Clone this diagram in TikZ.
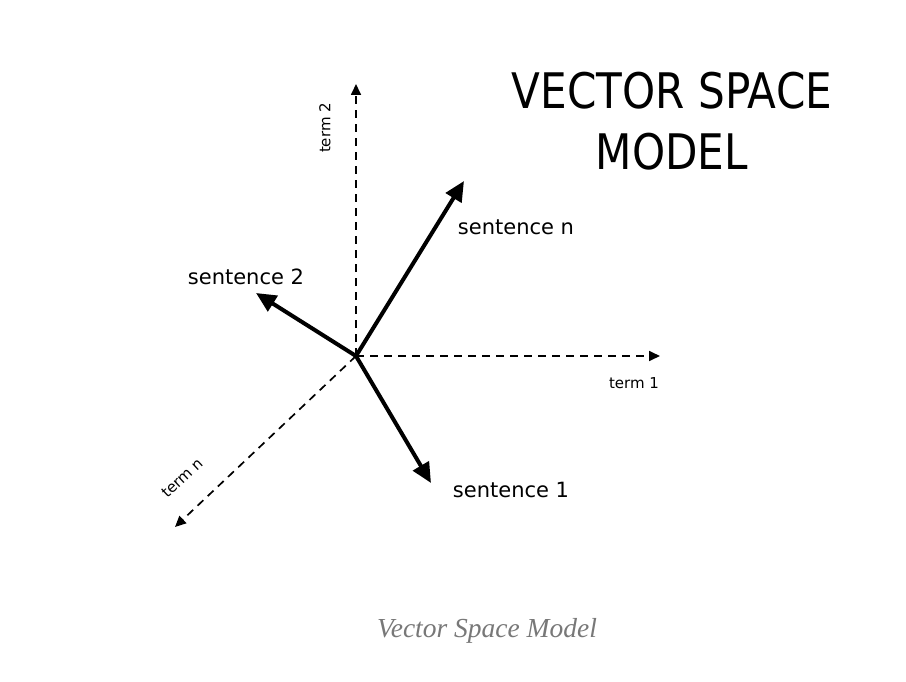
\documentclass[tikz,border=0pt]{standalone}
\usepackage{fontspec}
\usepackage{graphicx}
\setmainfont{DejaVu Sans}
\newfontfamily\capfont{Liberation Serif}
\usetikzlibrary{arrows.meta}
\definecolor{capgray}{HTML}{787878}
\tikzset{
  axis/.style={line width=1.7pt, dash pattern=on 8pt off 6pt, -{Triangle[length=11pt,width=10pt]}},
  vec/.style={line width=4pt, -{Triangle[length=20pt,width=18pt]}},
  lbl/.style={font=\fontsize{21}{24}\selectfont, inner sep=0pt},
  small/.style={font=\fontsize{15}{17}\selectfont, inner sep=0pt},
  title/.style={font=\fontsize{49}{61}\selectfont, inner sep=0pt, align=center},
}
\begin{document}
\begin{tikzpicture}[x=1pt,y=-1pt]
\useasboundingbox[fill=white] (0,0) rectangle (906,682);
\coordinate (O) at (356,356);
\coordinate (t1) at (660,356);
\coordinate (t2) at (356,84);
\coordinate (tn) at (175,527);
\coordinate (sn) at (464,181);
\coordinate (s2) at (256,293);
\coordinate (s1) at (431,483);
\draw[axis] (O) -- (t1);
\draw[axis] (O) -- (t2);
\draw[axis] (O) -- (tn);
\draw[vec] (O) -- (sn);
\draw[vec] (O) -- (s2);
\draw[vec] (O) -- (s1);
\node[title] (title) at (672,121) {\scalebox{0.86}[1]{VECTOR SPACE}\\\scalebox{0.86}[1]{MODEL}};
\node[lbl] (lsn) at (516,227) {sentence n};
\node[lbl] (ls2) at (246,277) {sentence 2};
\node[lbl] (ls1) at (511,490) {sentence 1};
\node[small] (lt1) at (634,383) {term 1};
\node[small, rotate=90] (lt2) at (325,128) {term 2};
\node[small, rotate=43] (ltn) at (182,478) {term n};
\node[inner sep=0pt, text=capgray, font=\capfont\itshape\fontsize{27.5}{31}\selectfont] (cap) at (487,631) {Vector Space Model};
\end{tikzpicture}
\end{document}
